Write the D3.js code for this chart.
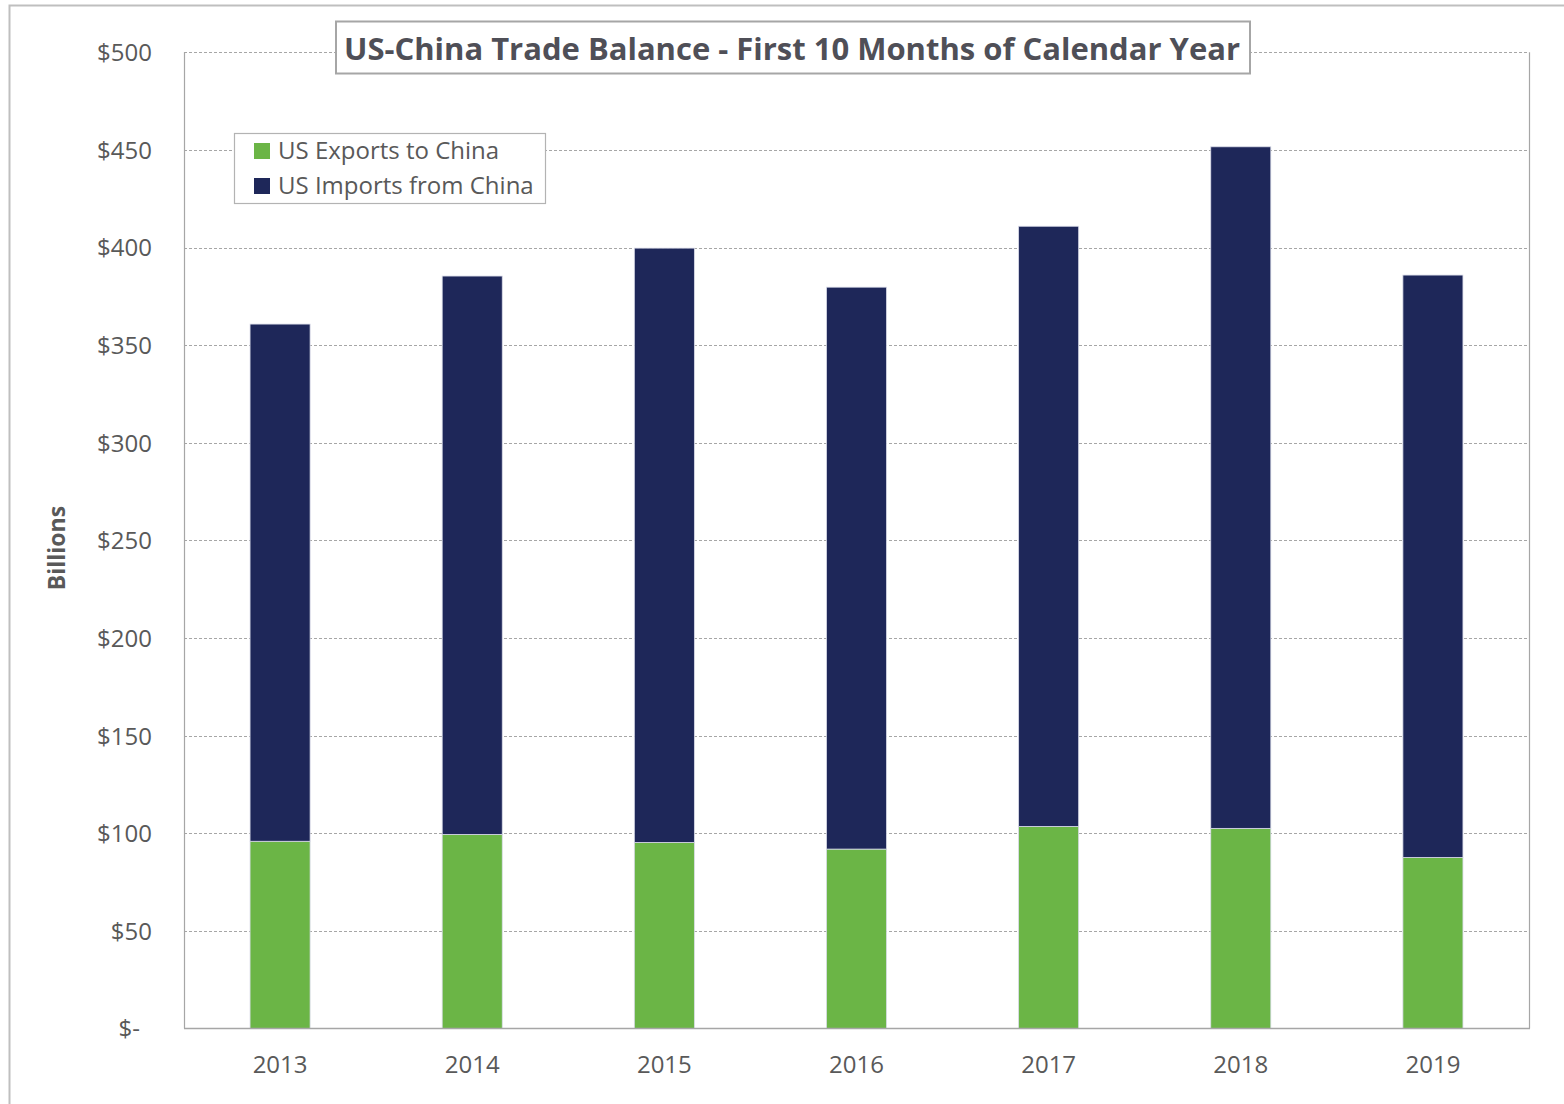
<!DOCTYPE html>
<html>
<head>
<meta charset="utf-8">
<script src="https://cdn.jsdelivr.net/npm/d3@7"></script>
<style>
  html, body { margin: 0; padding: 0; background: #fff; }
  svg { display: block; }
</style>
</head>
<body>
<script>
const years = ["2013", "2014", "2015", "2016", "2017", "2018", "2019"];
const exportsToChina = [95.9, 99.4, 95.3, 91.9, 103.5, 102.5, 87.6];
const importsFromChina = [264.9, 286.0, 304.4, 287.8, 307.4, 349.1, 298.3];
const seriesNames = ["US Exports to China", "US Imports from China"];
const seriesColors = ["#6bb546", "#1e2759"];
const yTicks = [0, 50, 100, 150, 200, 250, 300, 350, 400, 450, 500];
const titleText = "US-China Trade Balance - First 10 Months of Calendar Year";
const yAxisTitle = "Billions";

(function () {
const W = 1564, H = 1104;
const pL = 184, pR = 1529, pT = 52.3, pB = 1028.5;
const textColor = "#595959";
const font = "'Open Sans', sans-serif";

const svg = d3.select("body").append("svg").attr("width", W).attr("height", H);

// outer frame
svg.append("rect").attr("x", 9.5).attr("y", 5.5).attr("width", W + 20).attr("height", H + 20)
  .attr("fill", "#fff").attr("stroke", "#bfbfbf").attr("stroke-width", 2);

const x = d3.scaleBand().domain(years).range([pL, pR]).paddingInner(0.6875).paddingOuter(0.34375);
const y = d3.scaleLinear().domain([0, 500]).range([pB, pT]);

// gridlines
svg.append("g").selectAll("line").data(yTicks.filter(d => d > 0)).join("line")
  .attr("x1", pL).attr("x2", pR)
  .attr("y1", d => Math.round(y(d)) + 0.5).attr("y2", d => Math.round(y(d)) + 0.5)
  .attr("stroke", "#a6a6a6").attr("stroke-width", 1).attr("stroke-dasharray", "3,2");

// stacked data
const rows = years.map((yr, i) => ({ year: yr, exp: exportsToChina[i], imp: importsFromChina[i] }));
const stack = d3.stack().keys(["exp", "imp"])(rows);

svg.append("g").selectAll("g").data(stack).join("g")
  .attr("fill", (d, i) => seriesColors[i])
  .selectAll("rect").data(d => d).join("rect")
  .attr("x", d => x(d.data.year))
  .attr("width", x.bandwidth())
  .attr("y", d => y(d[1]))
  .attr("height", d => y(d[0]) - y(d[1]))
  .attr("stroke", "#d9dbe8").attr("stroke-width", 0.8);

// plot borders
const axisColor = "#a6a6a6";
svg.append("line").attr("x1", pL + 0.5).attr("x2", pL + 0.5).attr("y1", pT).attr("y2", pB)
  .attr("stroke", axisColor).attr("stroke-width", 1.2);
svg.append("line").attr("x1", pR + 0.5).attr("x2", pR + 0.5).attr("y1", pT).attr("y2", pB)
  .attr("stroke", axisColor).attr("stroke-width", 1.2);
svg.append("line").attr("x1", pL).attr("x2", pR + 1).attr("y1", pB).attr("y2", pB)
  .attr("stroke", axisColor).attr("stroke-width", 1.5);

// y axis labels
const yAxis = d3.axisLeft(y).tickValues(yTicks).tickSize(0)
  .tickFormat(d => d === 0 ? "$-" : "$" + d);
const yg = svg.append("g").attr("transform", `translate(${pL - 29},0)`).call(yAxis);
yg.select(".domain").remove();
yg.selectAll("text").attr("font-family", font).attr("font-size", 24).attr("fill", textColor)
  .attr("dy", "0.35em")
  .attr("dx", d => d === 0 ? -12 : 0);

// x axis labels
const xAxis = d3.axisBottom(x).tickSize(0);
const xg = svg.append("g").attr("transform", `translate(0,${pB})`).call(xAxis);
xg.select(".domain").remove();
xg.selectAll("text").attr("font-family", font).attr("font-size", 24).attr("fill", textColor)
  .attr("y", 44).attr("dy", 0);

// y axis title
svg.append("text").attr("transform", "translate(65,548) rotate(-90)")
  .attr("text-anchor", "middle").attr("font-family", font).attr("font-weight", "bold")
  .attr("font-size", 23).attr("fill", textColor).text(yAxisTitle);

// title box
svg.append("rect").attr("x", 336).attr("y", 21.5).attr("width", 914).attr("height", 52)
  .attr("fill", "#fff").attr("stroke", "#a6a6a6").attr("stroke-width", 2);
svg.append("text").attr("x", 344).attr("y", 60).attr("font-family", font).attr("font-weight", "bold")
  .attr("font-size", 31).attr("fill", "#4f4f57")
  .attr("textLength", 896).attr("lengthAdjust", "spacingAndGlyphs").text(titleText);

// legend
const lg = svg.append("g");
lg.append("rect").attr("x", 234.5).attr("y", 133.5).attr("width", 311).attr("height", 70)
  .attr("fill", "#fff").attr("stroke", "#b3b3b3").attr("stroke-width", 1.2);
const items = lg.selectAll("g").data(seriesNames).join("g")
  .attr("transform", (d, i) => `translate(254,${143 + i * 35})`);
items.append("rect").attr("width", 16).attr("height", 16).attr("fill", (d, i) => seriesColors[i]);
items.append("text").attr("x", 24).attr("y", 8).attr("dy", "0.35em")
  .attr("font-family", font).attr("font-size", 24).attr("fill", textColor).text(d => d);
})();
</script>
</body>
</html>
